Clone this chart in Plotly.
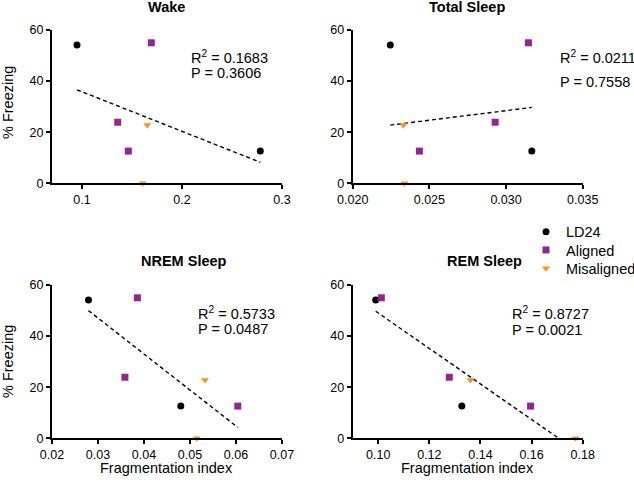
import numpy as np
import plotly.graph_objects as go

# ---------------- data ----------------
panel_titles = ["Wake", "Total Sleep", "NREM Sleep", "REM Sleep"]
group_names = ["LD24", "Aligned", "Misaligned"]

# % Freezing per group (same animals in every panel)
ld24_freezing = [54.1, 12.6]
aligned_freezing = [55.0, 23.9, 12.6]
misaligned_freezing = [22.8, 0.0]

# Fragmentation index per panel and group
wake_ld24 = [0.095, 0.2783]
wake_aligned = [0.1693, 0.1357, 0.1463]
wake_misaligned = [0.1653, 0.1607]

total_ld24 = [0.02245, 0.03168]
total_aligned = [0.03146, 0.02929, 0.02435]
total_misaligned = [0.02330, 0.02337]

nrem_ld24 = [0.02793, 0.0480]
nrem_aligned = [0.03856, 0.03585, 0.06039]
nrem_misaligned = [0.05325, 0.05144]

rem_ld24 = [0.0990, 0.1327]
rem_aligned = [0.1012, 0.1278, 0.1596]
rem_misaligned = [0.1361, 0.1772]

r2_labels = ["0.1683", "0.0211", "0.5733", "0.8727"]
p_labels = ["0.3606", "0.7558", "0.0487", "0.0021"]

x_ranges = [[0.07, 0.30], [0.020, 0.035], [0.02, 0.07], [0.09, 0.18]]
x_tickvals = [[0.1, 0.2, 0.3],
              [0.020, 0.025, 0.030, 0.035],
              [0.02, 0.03, 0.04, 0.05, 0.06, 0.07],
              [0.10, 0.12, 0.14, 0.16, 0.18]]
x_ticktext = [["0.1", "0.2", "0.3"],
              ["0.020", "0.025", "0.030", "0.035"],
              ["0.02", "0.03", "0.04", "0.05", "0.06", "0.07"],
              ["0.10", "0.12", "0.14", "0.16", "0.18"]]
y_tickvals = [0, 20, 40, 60]

# ---------------- style ----------------
W, H = 634, 484
FONT = "Liberation Sans, Arial, sans-serif"
colors = {"LD24": "#000000", "Aligned": "#92278F", "Misaligned": "#F7931E"}
symbols = {"LD24": "circle", "Aligned": "square", "Misaligned": "triangle-down"}
sizes = {"LD24": 7, "Aligned": 7, "Misaligned": 7}
legend_ids = {"LD24": "legend", "Aligned": "legend2", "Misaligned": "legend3"}
legend_y_px = {"LD24": 231.7, "Aligned": 250, "Misaligned": 268.3}

def px_x(p):
    return p / W

def px_y(p):
    return 1 - p / H

x_domains = [[px_x(52), px_x(282)], [px_x(352.7), px_x(582.7)],
             [px_x(52), px_x(282)], [px_x(352.7), px_x(582.7)]]
y_domains = [[px_y(183.3), px_y(30)], [px_y(183.3), px_y(30)],
             [px_y(438.3), px_y(285)], [px_y(438.3), px_y(285)]]

panels_x = [
    (wake_ld24, wake_aligned, wake_misaligned),
    (total_ld24, total_aligned, total_misaligned),
    (nrem_ld24, nrem_aligned, nrem_misaligned),
    (rem_ld24, rem_aligned, rem_misaligned),
]
freezing = (ld24_freezing, aligned_freezing, misaligned_freezing)

fig = go.Figure()

for i, xs in enumerate(panels_x):
    xa = "x" if i == 0 else f"x{i+1}"
    ya = "y" if i == 0 else f"y{i+1}"
    # regression line from all points in the panel
    allx = np.concatenate([np.array(v, float) for v in xs])
    ally = np.concatenate([np.array(v, float) for v in freezing])
    slope, intercept = np.polyfit(allx, ally, 1)
    x0, x1 = allx.min(), allx.max()
    if slope < 0 and slope * x1 + intercept < 0:
        x1 = -intercept / slope
    lx = np.array([x0, x1])
    fig.add_trace(go.Scatter(
        x=lx, y=slope * lx + intercept, mode="lines",
        line=dict(color="black", width=1.4, dash="4px,3px"),
        xaxis=xa, yaxis=ya, showlegend=False, hoverinfo="skip"))
    for g, xv, yv in zip(group_names, xs, freezing):
        fig.add_trace(go.Scatter(
            x=xv, y=yv, mode="markers", name=g,
            marker=dict(color=colors[g], symbol=symbols[g], size=sizes[g],
                        line=dict(width=0)),
            cliponaxis=False, xaxis=xa, yaxis=ya,
            showlegend=(i == 0), legend=legend_ids[g]))

axis_common = dict(showline=True, linecolor="black", linewidth=2,
                   ticks="outside", ticklen=4, tickwidth=2, tickcolor="black",
                   showgrid=False, zeroline=False, automargin=False,
                   tickfont=dict(family=FONT, size=12.5, color="black"))

layout = dict(width=W, height=H,
              margin=dict(l=0, r=0, t=0, b=0, pad=0, autoexpand=False),
              paper_bgcolor="white", plot_bgcolor="white",
              font=dict(family=FONT, color="black"))
for i in range(4):
    xk = "xaxis" if i == 0 else f"xaxis{i+1}"
    yk = "yaxis" if i == 0 else f"yaxis{i+1}"
    layout[xk] = dict(domain=x_domains[i], range=x_ranges[i],
                      tickvals=x_tickvals[i], ticktext=x_ticktext[i],
                      anchor="y" if i == 0 else f"y{i+1}", **axis_common)
    layout[yk] = dict(domain=y_domains[i], range=[0, 60], tickvals=y_tickvals,
                      anchor="x" if i == 0 else f"x{i+1}", **axis_common)

for g in group_names:
    layout[legend_ids[g]] = dict(
        x=px_x(526), y=px_y(legend_y_px[g]), xanchor="left", yanchor="middle",
        font=dict(family=FONT, size=14.5, color="black"),
        bgcolor="rgba(0,0,0,0)", itemwidth=30, borderwidth=0)
fig.update_layout(**layout)

anns = []
title_pos = [(166.7, 7), (467, 7), (184.3, 261), (484.5, 261)]
for t, (tx, ty) in zip(panel_titles, title_pos):
    anns.append(dict(text=f"<b>{t}</b>", x=px_x(tx), y=px_y(ty), xref="paper",
                     yref="paper", xanchor="center", yanchor="middle",
                     showarrow=False, font=dict(family=FONT, size=14.5)))

stat_pos = [(189.3, 56.7, 73.3), (557.7, 56.7, 82.3),
            (195.7, 312.7, 329.3), (510.3, 313, 330.3)]
for r2, p, (sx, sy1, sy2) in zip(r2_labels, p_labels, stat_pos):
    anns.append(dict(text=f"R<sup>2</sup> = {r2}", x=px_x(sx), y=px_y(sy1),
                     xref="paper", yref="paper", xanchor="left", yanchor="middle",
                     showarrow=False, font=dict(family=FONT, size=14.5)))
    anns.append(dict(text=f"P = {p}", x=px_x(sx), y=px_y(sy2),
                     xref="paper", yref="paper", xanchor="left", yanchor="middle",
                     showarrow=False, font=dict(family=FONT, size=14.5)))

for yc in (103, 362):
    anns.append(dict(text="% Freezing", x=px_x(8), y=px_y(yc), xref="paper",
                     yref="paper", xanchor="center", yanchor="middle",
                     textangle=-90, showarrow=False,
                     font=dict(family=FONT, size=14.5)))
for xc in (166.5, 467.5):
    anns.append(dict(text="Fragmentation index", x=px_x(xc), y=px_y(468),
                     xref="paper", yref="paper", xanchor="center",
                     yanchor="middle", showarrow=False,
                     font=dict(family=FONT, size=14.5)))
fig.update_layout(annotations=anns)

# remove the browser's default 8px body margin so the figure fills the window
fig.write_html("out.html",
               config={"displayModeBar": False},
               post_script="document.body.style.margin='0';"
                           "document.body.style.overflow='hidden';")
